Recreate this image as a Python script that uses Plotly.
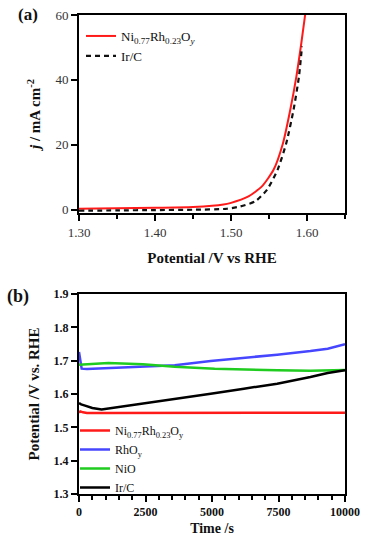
import plotly.graph_objects as go

# ---------------- Panel (a): polarization curves ----------------
pot_ni = [1.30, 1.35, 1.40, 1.45, 1.475, 1.49, 1.499, 1.523, 1.5407, 1.556, 1.5684, 1.578, 1.586, 1.5925, 1.5978]
j_ni = [0.3, 0.45, 0.6, 0.85, 1.2, 1.6, 2.05, 4.1, 7.2, 12.3, 20.5, 30.8, 41.0, 51.3, 60.5]

pot_ir = [1.30, 1.35, 1.40, 1.45, 1.4946, 1.512, 1.5319, 1.5473, 1.5613, 1.5727, 1.5823, 1.5894, 1.5934]
j_ir = [-0.3, -0.2, -0.1, 0.0, 0.3, 1.0, 2.6, 6.15, 12.3, 20.5, 30.8, 41.0, 50.3]

# ---------------- Panel (b): chronopotentiometry ----------------
t_ni = [0, 50, 150, 300, 1000, 2500, 5000, 7500, 10000]
v_ni = [1.544, 1.548, 1.545, 1.543, 1.543, 1.543, 1.544, 1.544, 1.544]

t_rh = [0, 30, 100, 300, 1100, 2400, 3600, 4950, 6200, 7450, 8700, 9350, 10000]
v_rh = [1.726, 1.71, 1.676, 1.675, 1.678, 1.681, 1.686, 1.699, 1.708, 1.718, 1.729, 1.736, 1.749]

t_nio = [0, 500, 1100, 2400, 3600, 5100, 6200, 7450, 8700, 10000]
v_nio = [1.688, 1.691, 1.693, 1.689, 1.682, 1.676, 1.673, 1.671, 1.670, 1.672]

t_irc = [0, 80, 200, 500, 850, 1700, 3000, 4250, 4950, 6200, 7450, 8700, 9350, 10000]
v_irc = [1.573, 1.569, 1.566, 1.558, 1.5535, 1.563, 1.579, 1.591, 1.601, 1.616, 1.631, 1.651, 1.663, 1.671]

name_ni_a = "Ni<sub>0.77</sub>Rh<sub>0.23</sub>O<sub><i>y</i></sub>"
name_ni_b = "Ni<sub>0.77</sub>Rh<sub>0.23</sub>O<sub>y</sub>"

FONT = "Liberation Serif"

fig = go.Figure()

fig.add_trace(go.Scatter(x=pot_ni, y=j_ni, mode="lines", name=name_ni_a,
                         line=dict(color="#ff1a1a", width=2, shape="spline", smoothing=0.6),
                         xaxis="x", yaxis="y", legend="legend"))
fig.add_trace(go.Scatter(x=pot_ir, y=j_ir, mode="lines", name="Ir/C",
                         line=dict(color="#111111", width=2.2, dash="5px,4px", shape="spline", smoothing=0.6),
                         xaxis="x", yaxis="y", legend="legend"))

fig.add_trace(go.Scatter(x=t_ni, y=v_ni, mode="lines", name=name_ni_b,
                         line=dict(color="#ff1a1a", width=2.5), xaxis="x2", yaxis="y2", legend="legend2"))
fig.add_trace(go.Scatter(x=t_rh, y=v_rh, mode="lines", name="RhO<sub>y</sub>",
                         line=dict(color="#4646ff", width=2.5), xaxis="x2", yaxis="y2", legend="legend2"))
fig.add_trace(go.Scatter(x=t_nio, y=v_nio, mode="lines", name="NiO",
                         line=dict(color="#1fcc1f", width=2.5), xaxis="x2", yaxis="y2", legend="legend2"))
fig.add_trace(go.Scatter(x=t_irc, y=v_irc, mode="lines", name="Ir/C",
                         line=dict(color="#000000", width=2.5), xaxis="x2", yaxis="y2", legend="legend2"))

W, H = 375, 548
xdom = [79 / W, 345 / W]
ydom_a = [1 - 213 / H, 1 - 15 / H]
ydom_b = [1 - 494 / H, 1 - 294 / H]

axis_common = dict(showline=True, linewidth=2, linecolor="black", mirror=True,
                   showgrid=False, zeroline=False, ticks="outside", tickwidth=1.5,
                   tickcolor="black", automargin=False)

fig.update_layout(
    width=W, height=H, autosize=False,
    margin=dict(l=0, r=0, t=0, b=0, autoexpand=False),
    paper_bgcolor="white", plot_bgcolor="white",
    font=dict(family=FONT, color="#111111", size=13),
    xaxis=dict(domain=xdom, anchor="y", range=[1.30, 1.65], tickmode="linear", tick0=1.30, dtick=0.1,
               tickformat=".2f", ticklen=6,
               minor=dict(ticks="outside", dtick=0.05, tick0=1.30, ticklen=4, tickwidth=1.5, tickcolor="black"),
               tickfont=dict(family=FONT, size=13, color="#333333"),
               title=dict(text="<b>Potential /V vs RHE</b>", font=dict(family=FONT, size=15, color="#111111"), standoff=14),
               **axis_common),
    yaxis=dict(domain=ydom_a, anchor="x", range=[-1, 60], tickmode="linear", tick0=0, dtick=20, ticklen=6,
               tickfont=dict(family=FONT, size=13, color="#333333"),
               title=dict(text="<b><i>j</i> / mA cm<sup>-2</sup></b>", font=dict(family=FONT, size=15, color="#111111"), standoff=11),
               **axis_common),
    xaxis2=dict(domain=xdom, anchor="y2", range=[0, 10000], tickmode="linear", tick0=0, dtick=2500, ticklen=6,
                tickformat="d",
                minor=dict(ticks="outside", dtick=500, tick0=0, ticklen=4, tickwidth=1.5, tickcolor="black"),
                tickfont=dict(family=FONT, size=12, weight="bold", color="#111111"),
                title=dict(text="<b>Time /s</b>", font=dict(family=FONT, size=14, color="#111111"), standoff=5),
                **axis_common),
    yaxis2=dict(domain=ydom_b, anchor="x2", range=[1.3, 1.9], tickmode="linear", tick0=1.3, dtick=0.1,
                tickformat=".1f", ticklen=6,
                tickfont=dict(family=FONT, size=12, weight="bold", color="#111111"),
                title=dict(text="<b>Potential /V vs. RHE</b>", font=dict(family=FONT, size=15, color="#111111"), standoff=10),
                **axis_common),
    legend=dict(x=81 / W, y=1 - 21 / H, xanchor="left", yanchor="top", bgcolor="rgba(0,0,0,0)",
                borderwidth=0, font=dict(size=13, family=FONT, color="#111111")),
    legend2=dict(x=75 / W, y=1 - 416 / H, xanchor="left", yanchor="top", bgcolor="rgba(0,0,0,0)",
                 borderwidth=0, font=dict(size=12, family=FONT, color="#111111")),
    annotations=[
        dict(text="<b>(a)</b>", x=28 / W, y=1 - 15 / H, xref="paper", yref="paper", showarrow=False,
             xanchor="center", yanchor="middle",
             font=dict(size=17, family=FONT, color="#111111")),
        dict(text="<b>(b)</b>", x=18 / W, y=1 - 296 / H, xref="paper", yref="paper", showarrow=False,
             xanchor="center", yanchor="middle",
             font=dict(size=18, family=FONT, color="#111111")),
    ],
)

fig.write_html("out.html", config={"displayModeBar": False},
               post_script="document.body.style.margin='0';document.body.style.overflow='hidden';")
